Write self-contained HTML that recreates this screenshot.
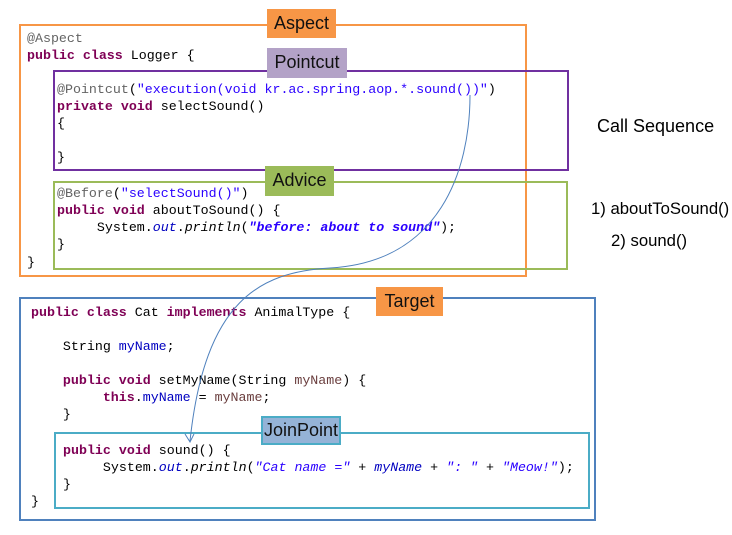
<!DOCTYPE html>
<html><head><meta charset="utf-8"><style>
body{margin:0;width:732px;height:535px;background:#fff;position:relative;overflow:hidden;font-family:"Liberation Sans",sans-serif}
.b{position:absolute;box-sizing:border-box}
.l{position:absolute;box-sizing:border-box;font-size:18px;color:#111;text-align:center;line-height:29px}
.c{position:absolute;font-family:"Liberation Mono",monospace;font-size:13.3px;white-space:pre;color:#000;line-height:17px}
.k{color:#7f0055;font-weight:bold}.s{color:#2a00ff}.a{color:#646464}.f{color:#0000c0}.i{font-style:italic}.p{color:#6a3e3e}
.t{position:absolute;font-size:16.7px;color:#000;white-space:pre}
</style></head><body>
<div class="b" style="left:19px;top:24px;width:508px;height:253px;border:2px solid #f79646"></div>
<div class="b" style="left:53px;top:70px;width:516px;height:101px;border:2px solid #7030a0"></div>
<div class="b" style="left:53px;top:181px;width:515px;height:89px;border:2px solid #9bbb59"></div>
<div class="b" style="left:19px;top:297px;width:577px;height:224px;border:2px solid #4f81bd"></div>
<div class="b" style="left:54px;top:432px;width:536px;height:77px;border:2px solid #4bacc6"></div>

<div class="l" style="left:267px;top:9px;width:69px;height:29px;background:#f79646">Aspect</div>
<div class="l" style="left:267px;top:48px;width:80px;height:30px;background:#b3a2c7">Pointcut</div>
<div class="l" style="left:265px;top:166px;width:69px;height:30px;background:#9bbb59">Advice</div>
<div class="l" style="left:376px;top:287px;width:67px;height:29px;background:#f79646">Target</div>
<div class="l" style="left:261px;top:416px;width:80px;height:29px;background:#95b3d7;border:2px solid #4bacc6;line-height:25px">JoinPoint</div>

<div class="c" style="left:27px;top:30px"><span class="a">@Aspect</span>
<span class="k">public class</span> Logger {</div>
<div class="c" style="left:57px;top:81px"><span class="a">@Pointcut</span>(<span class="s">"execution(void kr.ac.spring.aop.*.sound())"</span>)
<span class="k">private void</span> selectSound()
{

}</div>
<div class="c" style="left:57px;top:185px"><span class="a">@Before</span>(<span class="s">"selectSound()"</span>)
<span class="k">public void</span> aboutToSound() {
     System.<span class="f i">out</span>.<span class="i">println</span>(<span class="s i" style="font-weight:bold">"before: about to sound"</span>);
}</div>
<div class="c" style="left:27px;top:254px">}</div>

<div class="c" style="left:31px;top:304px"><span class="k">public class</span> Cat <span class="k">implements</span> AnimalType {

    String <span class="f">myName</span>;

    <span class="k">public void</span> setMyName(String <span class="p">myName</span>) {
         <span class="k">this</span>.<span class="f">myName</span> = <span class="p">myName</span>;
    }</div>
<div class="c" style="left:63px;top:442px"><span class="k">public void</span> sound() {
     System.<span class="f i">out</span>.<span class="i">println</span>(<span class="s i">"Cat name ="</span> + <span class="f i">myName</span> + <span class="s i">": "</span> + <span class="s i">"Meow!"</span>);
}</div>
<div class="c" style="left:31px;top:493px">}</div>

<div class="t" style="left:597px;top:116px;font-size:18px">Call Sequence</div>
<div class="t" style="left:591px;top:199px">1) aboutToSound()</div>
<div class="t" style="left:611px;top:231px">2) sound()</div>

<svg class="b" style="left:0;top:0" width="732" height="535">
<path d="M470 95 C470 170,440 262,330 268 C260 272,205 300,190 441" fill="none" stroke="#4f81bd" stroke-width="1"/>
<path d="M185 434 L190 442 L194 434" fill="none" stroke="#4f81bd" stroke-width="1"/>
</svg>
</body></html>
